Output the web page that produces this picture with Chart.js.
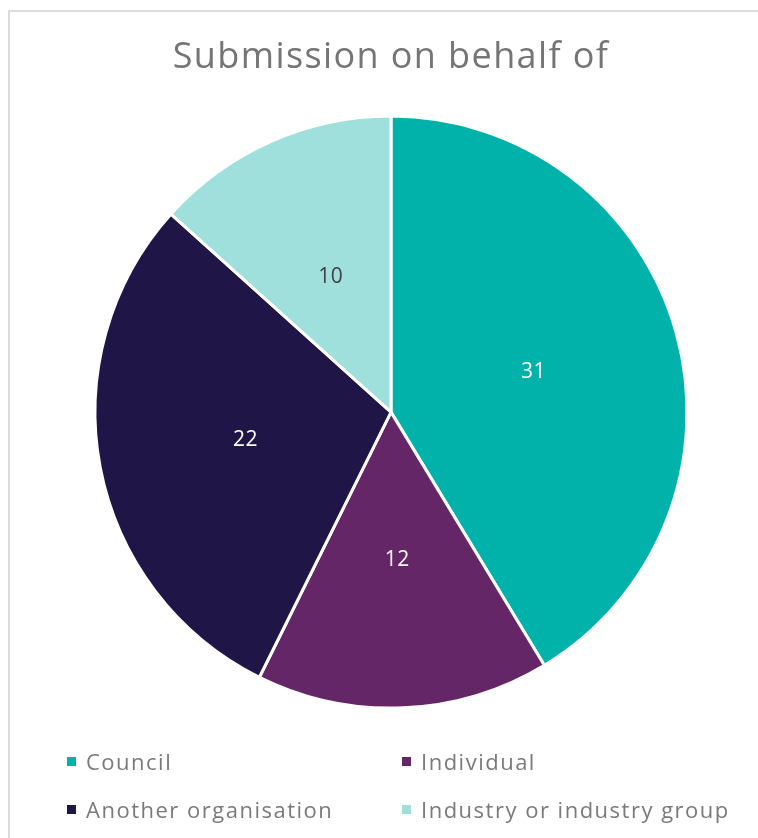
<!DOCTYPE html>
<html>
<head>
<meta charset="utf-8">
<script src="https://cdn.jsdelivr.net/npm/chart.js@4/dist/chart.umd.min.js"></script>
<style>
  html, body { margin: 0; padding: 0; background: #fff; overflow: hidden; }
  .wrap { position: relative; width: 758px; height: 838px; }
  .frame {
    position: absolute; left: 8px; top: 10px; width: 800px; height: 900px;
    border-left: 2px solid #dcdcdc; border-top: 2px solid #dcdcdc;
  }
  canvas { position: absolute; left: 0; top: 0; }
  .legend { position: absolute; left: 0; top: 0; width: 758px; height: 838px; pointer-events: none; }
  .legend .item {
    position: absolute; display: flex; align-items: center;
    font-family: "Open Sans", "Noto Sans", sans-serif; font-size: 22px; color: #7a7a7a;
    letter-spacing: 1.5px;
    transform: translateY(-50%); white-space: nowrap;
  }
  .legend .box { width: 9px; height: 9px; margin-right: 10px; }
</style>
</head>
<body>
<div class="wrap">
  <div class="frame"></div>
  <canvas id="pieChart" width="758" height="838"></canvas>
  <div class="legend" id="legend"></div>
</div>
<script>
/* data */
const labels = ["Council", "Individual", "Another organisation", "Industry or industry group"];
const counts = [31, 12, 22, 10];
const colours = ["#00b2a9", "#642667", "#201547", "#9fe0dc"];
const labelColours = ["#ffffff", "#ffffff", "#ffffff", "#404040"];

/* wider tracking for the title text */
const spacing = {
  id: "spacing",
  beforeDraw(chart) {
    chart.ctx.letterSpacing = "1.4px";
  },
};

/* value labels in the middle of each slice */
const sliceLabels = {
  id: "sliceLabels",
  afterDatasetsDraw(chart) {
    const ctx = chart.ctx;
    const meta = chart.getDatasetMeta(0);
    ctx.save();
    ctx.letterSpacing = "0.5px";
    ctx.font = "21px 'Open Sans', 'Noto Sans', sans-serif";
    ctx.textAlign = "center";
    ctx.textBaseline = "middle";
    meta.data.forEach((arc, i) => {
      const p = arc.tooltipPosition();
      ctx.fillStyle = labelColours[i];
      ctx.fillText(String(counts[i]), p.x, p.y);
    });
    ctx.restore();
  },
};

const chart = new Chart(document.getElementById("pieChart"), {
  type: "pie",
  data: {
    labels: labels,
    datasets: [
      {
        data: counts,
        backgroundColor: colours,
        borderColor: "#ffffff",
        borderWidth: 3,
        hoverOffset: 0,
      },
    ],
  },
  options: {
    responsive: false,
    animation: false,
    radius: 296,
    layout: { padding: { left: 24, right: 0, top: 0, bottom: 113 } },
    plugins: {
      legend: { display: false },
      tooltip: { enabled: false },
      title: {
        display: true,
        text: "Submission on behalf of",
        color: "#757575",
        font: { family: "'Open Sans', 'Noto Sans', sans-serif", size: 36, weight: "normal" },
        padding: { top: 36, bottom: 20 },
      },
    },
  },
  plugins: [spacing, sliceLabels],
});

/* legend in two columns under the pie */
const legendBox = document.getElementById("legend");
const cols = [67, 402];
const rows = [761, 809];
chart.options.plugins.legend.labels.generateLabels(chart).forEach((item, i) => {
  const el = document.createElement("div");
  el.className = "item";
  el.style.left = cols[i % 2] + "px";
  el.style.top = rows[Math.floor(i / 2)] + "px";
  const box = document.createElement("span");
  box.className = "box";
  box.style.background = item.fillStyle;
  el.appendChild(box);
  el.appendChild(document.createTextNode(item.text));
  legendBox.appendChild(el);
});
</script>
</body>
</html>
